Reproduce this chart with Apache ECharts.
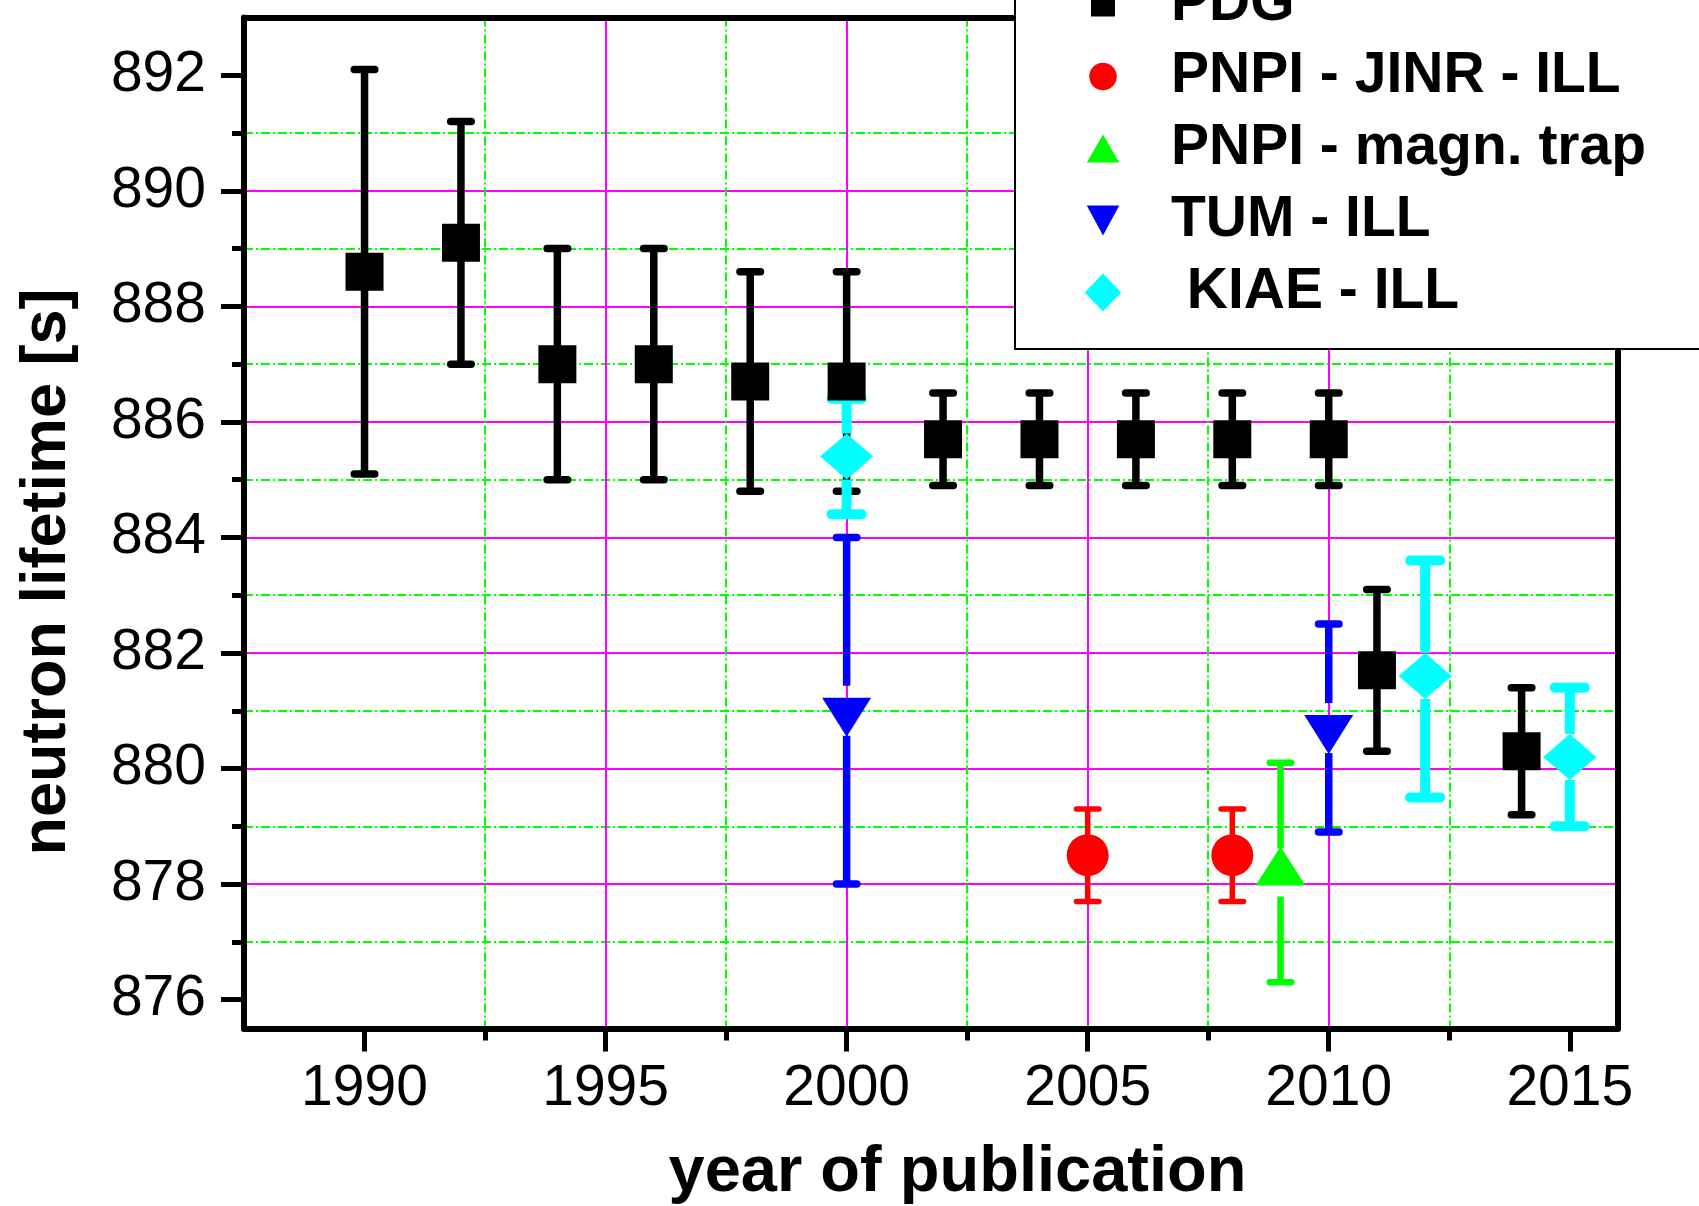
<!DOCTYPE html>
<html>
<head>
<meta charset="utf-8">
<script src="https://cdn.jsdelivr.net/npm/echarts@6/dist/echarts.min.js"></script>
<style>
html,body{margin:0;padding:0;background:#fff;}
#chart{width:1699px;height:1206px;}
</style>
</head>
<body>
<div id="chart"></div>
<script>
// ---- data ----
const xTickValues = [1990, 1995, 2000, 2005, 2010, 2015];
const yTickValues = [876, 878, 880, 882, 884, 886, 888, 890, 892];

const pdgYears  = [1990, 1992, 1994, 1996, 1998, 2000, 2002, 2004, 2006, 2008, 2010, 2011, 2014];
const pdgValues = [888.6, 889.1, 887.0, 887.0, 886.7, 886.7, 885.7, 885.7, 885.7, 885.7, 885.7, 881.7, 880.3];
const pdgLow    = [885.1, 887.0, 885.0, 885.0, 884.8, 884.8, 884.9, 884.9, 884.9, 884.9, 884.9, 880.3, 879.2];
const pdgHigh   = [892.1, 891.2, 889.0, 889.0, 888.6, 888.6, 886.5, 886.5, 886.5, 886.5, 886.5, 883.1, 881.4];

const jinrYears  = [2005, 2008];
const jinrValues = [878.5, 878.5];
const jinrLow    = [877.7, 877.7];
const jinrHigh   = [879.3, 879.3];

const magnYears  = [2009];
const magnValues = [878.2];
const magnLow    = [876.3];
const magnHigh   = [880.1];

const tumYears  = [2000, 2010];
const tumValues = [881.0, 880.7];
const tumLow    = [878.0, 878.9];
const tumHigh   = [884.0, 882.5];

const kiaeYears  = [2000, 2012, 2015];
const kiaeValues = [885.4, 881.6, 880.2];
const kiaeLow    = [884.4, 879.5, 879.0];
const kiaeHigh   = [886.4, 883.6, 881.4];

const seriesNames = ['PDG', 'PNPI - JINR - ILL', 'PNPI - magn. trap', 'TUM - ILL', ' KIAE - ILL'];

// ---- chart ----
const FONT = '"Liberation Sans", Arial, Helvetica, sans-serif';
const chart = echarts.init(document.getElementById('chart'), null, {renderer: 'canvas'});

function errorBars(xs, ys, lo, hi, color, stemW, capW, gap) {
  return {
    type: 'custom',
    silent: true,
    animation: false,
    clip: false,
    data: xs.map((x, i) => [x, ys[i], lo[i], hi[i]]),
    encode: {x: 0, y: [2, 3]},
    renderItem: function (params, api) {
      const x = api.value(0);
      const mid = api.coord([x, api.value(1)]);
      const top = api.coord([x, api.value(3)]);
      const bot = api.coord([x, api.value(2)]);
      const half = (capW - stemW) / 2;
      const capStyle = {stroke: color, lineWidth: stemW, fill: null, lineCap: 'round'};
      const stemStyle = {stroke: color, lineWidth: stemW, fill: null, lineCap: 'butt'};
      const children = [];
      if (gap > 0) {
        children.push({type: 'line', shape: {x1: top[0], y1: top[1], x2: mid[0], y2: mid[1] - gap}, style: stemStyle});
        children.push({type: 'line', shape: {x1: mid[0], y1: mid[1] + gap, x2: bot[0], y2: bot[1]}, style: stemStyle});
      } else {
        children.push({type: 'line', shape: {x1: top[0], y1: top[1], x2: bot[0], y2: bot[1]}, style: stemStyle});
      }
      children.push({type: 'line', shape: {x1: top[0] - half, y1: top[1], x2: top[0] + half, y2: top[1]}, style: capStyle});
      children.push({type: 'line', shape: {x1: bot[0] - half, y1: bot[1], x2: bot[0] + half, y2: bot[1]}, style: capStyle});
      return {type: 'group', children: children};
    }
  };
}

function markers(name, xs, ys, color, symbol, size, offset) {
  return {
    type: 'scatter',
    name: name,
    animation: false,
    silent: true,
    symbol: symbol,
    symbolSize: size,
    symbolOffset: offset || [0, 0],
    itemStyle: {color: color, opacity: 1},
    data: xs.map((x, i) => [x, ys[i]])
  };
}

const INV_TRI = 'path://M0,0L10,0L5,10Z';

const option = {
  backgroundColor: '#ffffff',
  animation: false,
  grid: {left: 244, right: 81, top: 17.5, bottom: 177.5, containLabel: false, outerBoundsMode: 'none'},
  xAxis: [
    {
      type: 'value', position: 'bottom',
      min: 1987.5, max: 2016, splitNumber: 6, minInterval: 5, maxInterval: 5,
      axisLine: {show: true, onZero: false, lineStyle: {color: '#000', width: 6}},
      axisTick: {show: true, inside: false, length: 23, customValues: xTickValues, lineStyle: {color: '#000', width: 5}},
      minorTick: {show: true, splitNumber: 2, length: 12, lineStyle: {color: '#000', width: 5}},
      axisLabel: {show: true, customValues: xTickValues, margin: 32, fontSize: 57, color: '#000', fontFamily: FONT,
                  formatter: function (v) { return String(Math.round(v)); }},
      splitLine: {show: true, showMinLine: false, showMaxLine: false, lineStyle: {color: '#ff00ff', width: 2}},
      minorSplitLine: {show: true, lineStyle: {color: '#00ff00', width: 2, type: [9, 3, 2, 3]}},
      name: 'year of publication', nameLocation: 'middle', nameGap: 112,
      nameTextStyle: {fontSize: 65, lineHeight: 65, fontWeight: 'bold', color: '#000', fontFamily: FONT, padding: [0, 0, 0, 53]}
    },
    {
      type: 'value', position: 'top', min: 1987.5, max: 2016,
      axisLine: {show: true, onZero: false, lineStyle: {color: '#000', width: 6}},
      axisTick: {show: false}, axisLabel: {show: false}, splitLine: {show: false}
    }
  ],
  yAxis: [
    {
      type: 'value', position: 'left',
      min: 875.5, max: 893, splitNumber: 8, minInterval: 2, maxInterval: 2,
      axisLine: {show: true, onZero: false, lineStyle: {color: '#000', width: 6}},
      axisTick: {show: true, inside: false, length: 23, customValues: yTickValues, lineStyle: {color: '#000', width: 5}},
      minorTick: {show: true, splitNumber: 2, length: 12, lineStyle: {color: '#000', width: 5}},
      axisLabel: {show: true, customValues: yTickValues, margin: 38, fontSize: 57, color: '#000', fontFamily: FONT,
                  padding: [0, 0, 6, 0],
                  formatter: function (v) { return String(Math.round(v)); }},
      splitLine: {show: true, showMinLine: false, showMaxLine: false, lineStyle: {color: '#ff00ff', width: 2}},
      minorSplitLine: {show: true, lineStyle: {color: '#00ff00', width: 2, type: [9, 3, 2, 3]}},
      name: 'neutron lifetime [s]', nameLocation: 'middle', nameGap: 165,
      nameTextStyle: {fontSize: 63, lineHeight: 63, fontWeight: 'bold', color: '#000', fontFamily: FONT, padding: [0, 98, 0, 0]}
    },
    {
      type: 'value', position: 'right', min: 875.5, max: 893,
      axisLine: {show: true, onZero: false, lineStyle: {color: '#000', width: 6}},
      axisTick: {show: false}, axisLabel: {show: false}, splitLine: {show: false}
    }
  ],
  legend: {
    show: true,
    orient: 'vertical',
    left: 1015, top: -44,
    selectedMode: false,
    backgroundColor: '#ffffff',
    borderColor: '#000', borderWidth: 2,
    padding: [20, 120, 28, 69],
    itemWidth: 38, itemHeight: 38, itemGap: 15,
    textStyle: {fontSize: 57, lineHeight: 57, fontWeight: 'bold', color: '#000', fontFamily: FONT, padding: [0, 0, 0, 44]},
    data: [
      {name: seriesNames[0], icon: 'path://M0,0M38,38M7,7L31,7L31,31L7,31Z'},
      {name: seriesNames[1], icon: 'path://M0,0M38,38M32.75,19A13.75,13.75,0,1,1,5.25,19A13.75,13.75,0,1,1,32.75,19Z'},
      {name: seriesNames[2], icon: 'path://M0,0M38,38M19,5L35.25,33L2.75,33Z'},
      {name: seriesNames[3], icon: 'path://M0,0M38,38M2.75,4L35.25,4L19,34Z'},
      {name: seriesNames[4], icon: 'path://M0,0M38,38M19,0L37.25,19L19,38L0.75,19Z'}
    ]
  },
  series: [
    markers(seriesNames[4], kiaeYears, kiaeValues, '#00ffff', 'diamond', [53, 46]),
    errorBars(pdgYears, pdgValues, pdgLow, pdgHigh, '#000000', 7.5, 28, 0),
    errorBars(kiaeYears, kiaeValues, kiaeLow, kiaeHigh, '#00ffff', 10, 40, 23),
    errorBars(tumYears, tumValues, tumLow, tumHigh, '#0000ff', 7.5, 28, 25),
    markers(seriesNames[3], tumYears, tumValues, '#0000ff', INV_TRI, [49, 39], [0, 6.5]),
    errorBars(magnYears, magnValues, magnLow, magnHigh, '#00ff00', 6.5, 28, 24),
    markers(seriesNames[2], magnYears, magnValues, '#00ff00', 'triangle', [50, 39], [0, -6.5]),
    errorBars(jinrYears, jinrValues, jinrLow, jinrHigh, '#ff0000', 5.5, 28, 0),
    markers(seriesNames[1], jinrYears, jinrValues, '#ff0000', 'circle', 42),
    markers(seriesNames[0], pdgYears, pdgValues, '#000000', 'rect', 38)
  ]
};

chart.setOption(option);
</script>
</body>
</html>
